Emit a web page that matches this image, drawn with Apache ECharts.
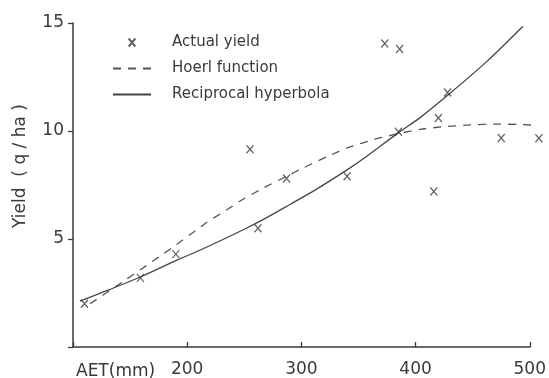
<!DOCTYPE html>
<html>
<head>
<meta charset="utf-8">
<script src="https://cdn.jsdelivr.net/npm/echarts@6/dist/echarts.min.js"></script>
<style>
  html, body { margin: 0; padding: 0; background: #fff; }
  #chart { width: 549px; height: 378px; }
</style>
</head>
<body>
<div id="chart"></div>
<script>
// 观测产量 (x 标记)
const aetActual = [110, 159, 190, 255, 262, 287, 340, 373, 385, 386, 416, 420, 428, 475, 508]
const yieldActual = [2.0, 3.2, 4.3, 9.15, 5.5, 7.8, 7.9, 14.05, 9.96, 13.8, 7.2, 10.6, 11.78, 9.68, 9.66]

// Hoerl 函数曲线 (虚线)
const aetHoerl = [115, 143, 159, 175, 189, 217, 234, 249, 267, 287, 302, 322, 342, 363, 385, 404, 425, 448, 471, 490, 515]
const yieldHoerl = [2.0, 3.0, 3.58, 4.16, 4.68, 5.76, 6.33, 6.84, 7.37, 7.9, 8.3, 8.8, 9.25, 9.6, 9.88, 10.08, 10.2, 10.28, 10.32, 10.3, 10.25]

// 倒数双曲线 (实线)
const aetRecip = [106, 130, 159, 191, 211, 229, 250, 270, 290, 313, 340, 357, 386, 404, 428, 462, 494]
const yieldRecip = [2.12, 2.62, 3.24, 4.02, 4.48, 4.92, 5.45, 6.0, 6.6, 7.3, 8.2, 8.82, 9.96, 10.62, 11.65, 13.2, 14.85]

const xTicks = [200, 300, 400, 500]
const yTicks = [5, 10, 15]

const pair = (xs, ys) => xs.map((x, i) => [x, ys[i]])

const ink = '#3a3a3a'
const font = 'DejaVu Sans'

const myChart = echarts.init(document.getElementById('chart'))
const option = {
  backgroundColor: '#fff',
  animation: false,
  textStyle: { fontFamily: font },
  grid: { left: 73, right: 19, top: 23, bottom: 27 },
  legend: {
    orient: 'vertical',
    left: 107,
    top: 30,
    itemWidth: 38,
    itemHeight: 8,
    itemGap: 11,
    textStyle: { fontSize: 15, color: ink, padding: [0, 0, 0, 16] },
    data: [
      { name: 'Actual yield' },
      // 线条图例不要中间的圆点
      { name: 'Hoerl function', itemStyle: { opacity: 0 } },
      { name: 'Reciprocal hyperbola', itemStyle: { opacity: 0 } },
    ],
  },
  xAxis: {
    type: 'value',
    min: 100,
    max: 500,
    interval: 100,
    splitLine: { show: false },
    axisLine: { lineStyle: { color: ink, width: 1.5 } },
    axisTick: { inside: true, length: 5, lineStyle: { color: ink, width: 1.3 } },
    axisLabel: {
      fontSize: 17,
      color: ink,
      margin: 14,
      formatter: (v) => (xTicks.includes(v) ? String(v) : ''),
    },
  },
  yAxis: {
    type: 'value',
    min: 0,
    max: 15,
    interval: 5,
    name: 'Yield  ( q / ha )',
    nameLocation: 'middle',
    nameGap: 44,
    nameRotate: 90,
    nameTextStyle: { fontSize: 17, color: ink, padding: [0, 0, 0, 38] },
    splitLine: { show: false },
    axisLine: { lineStyle: { color: ink, width: 1.5 } },
    axisTick: { length: 5, lineStyle: { color: ink, width: 1.3 } },
    axisLabel: {
      fontSize: 17,
      color: ink,
      margin: 9,
      formatter: (v) => (yTicks.includes(v) ? String(v) : ''),
    },
  },
  graphic: [
    {
      type: 'text',
      left: 76,
      top: 363,
      style: { text: 'AET(mm)', fontSize: 17, fill: ink, fontFamily: font },
    },
  ],
  series: [
    {
      name: 'Actual yield',
      type: 'scatter',
      clip: false,
      symbol: 'path://M0,0L10,12M10,0L0,12',
      symbolSize: [7, 8],
      itemStyle: { color: 'none', borderColor: ink, borderWidth: 1.3 },
      data: pair(aetActual, yieldActual),
      z: 3,
    },
    {
      name: 'Hoerl function',
      type: 'line',
      clip: false,
      symbol: 'none',
      smooth: 0.2,
      itemStyle: { color: '#555' },
      lineStyle: { color: '#555', width: 1.3, type: [8, 7] },
      data: pair(aetHoerl, yieldHoerl),
    },
    {
      name: 'Reciprocal hyperbola',
      type: 'line',
      clip: false,
      symbol: 'none',
      smooth: 0.3,
      itemStyle: { color: '#444' },
      lineStyle: { color: '#444', width: 1.3 },
      data: pair(aetRecip, yieldRecip),
    },
  ],
}
myChart.setOption(option, true)
</script>
</body>
</html>
